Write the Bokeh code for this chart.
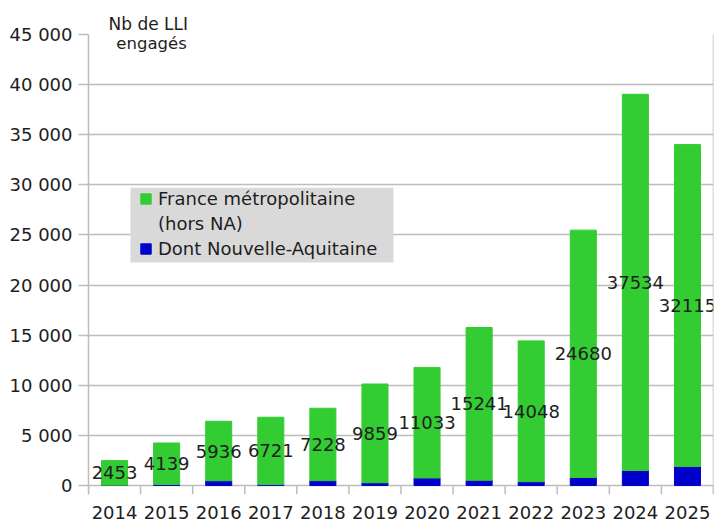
from bokeh.plotting import figure
from bokeh.models import (ColumnDataSource, Range1d, LinearAxis, FixedTicker,
                          Legend, LegendItem, Label, Span, BoxAnnotation)
from bokeh.core.properties import value
from bokeh.embed import file_html
from bokeh.resources import INLINE

years = ["2014", "2015", "2016", "2017", "2018", "2019", "2020", "2021", "2022", "2023", "2024", "2025"]
france_hors_na = [2453, 4139, 5936, 6721, 7228, 9859, 11033, 15241, 14048, 24680, 37534, 32115]
nouvelle_aquitaine = [30, 100, 470, 90, 480, 270, 750, 520, 380, 800, 1500, 1900]
y_ticks = [0, 5000, 10000, 15000, 20000, 25000, 30000, 35000, 40000, 45000]
y_tick_labels = ["0", "5 000", "10 000", "15 000", "20 000", "25 000", "30 000", "35 000", "40 000", "45 000"]

GREEN = "#33cc33"
BLUE = "#0000cc"
GRID = "#bdbdbd"
TXT = "#1e1e1e"
FONT = "DejaVu Sans"
TICK_DEPTH = 900  # x tick marks below the baseline, in data units

n = len(years)
x_pos = [i + 0.5 for i in range(n)]
bounds = list(range(n + 1))
label_y = [b + g / 2 for b, g in zip(nouvelle_aquitaine, france_hors_na)]
src = ColumnDataSource(dict(x=x_pos, na=nouvelle_aquitaine, fr=france_hors_na,
                            label_y=label_y, label_txt=[str(v) for v in france_hors_na]))

p = figure(width=715, height=521, x_range=Range1d(0, n),
           y_range=Range1d(-TICK_DEPTH, y_ticks[-1]), output_backend="svg", toolbar_location=None,
           x_axis_location=None, min_border_left=88, min_border_right=2,
           min_border_top=34, min_border_bottom=25)
p.background_fill_color = "white"
p.border_fill_color = "white"
p.outline_line_color = None

p.title.text = "Nb de LLI"
p.title.align = "left"
p.title.offset = 20
p.title.standoff = 2
p.title.text_font = FONT
p.title.text_font_size = "17px"
p.title.text_font_style = "normal"
p.title.text_color = TXT

rs = p.vbar_stack(["na", "fr"], x="x", width=0.5, color=[BLUE, GREEN], source=src)
blank = p.vbar(x=[], top=[], width=0.5, fill_alpha=0, line_alpha=0)

# y axis
ya = p.yaxis[0]
ya.ticker = FixedTicker(ticks=y_ticks, minor_ticks=[])
ya.major_label_overrides = {t: l for t, l in zip(y_ticks, y_tick_labels)}
ya.major_label_text_font = FONT
ya.major_label_text_font_size = "18px"
ya.major_label_text_color = TXT
ya.major_label_standoff = 6
ya.axis_line_color = GRID
ya.axis_line_width = 1.5
ya.major_tick_line_color = GRID
ya.major_tick_line_width = 1.5
ya.major_tick_out = 10
ya.major_tick_in = 0
ya.minor_tick_line_color = None
p.ygrid.ticker = FixedTicker(ticks=y_ticks)
p.ygrid.grid_line_color = GRID
p.ygrid.grid_line_width = 1.5
p.xgrid.grid_line_color = None

# right border and category boundary ticks
p.add_layout(Span(location=n, dimension="height", line_color=GRID, line_width=1.5))
p.segment(x0=bounds, y0=[0] * len(bounds), x1=bounds, y1=[-TICK_DEPTH] * len(bounds),
          line_color=GRID, line_width=1.5)

# year labels at category centres
lab_axis = LinearAxis(ticker=FixedTicker(ticks=x_pos, minor_ticks=[]))
lab_axis.major_label_overrides = {x: y for x, y in zip(x_pos, years)}
lab_axis.major_tick_line_color = None
lab_axis.axis_line_color = None
lab_axis.minor_tick_line_color = None
lab_axis.major_label_text_font = FONT
lab_axis.major_label_text_font_size = "18px"
lab_axis.major_label_text_color = TXT
lab_axis.major_label_standoff = 5
p.add_layout(lab_axis, "below")

# value labels
p.text(x="x", y="label_y", text="label_txt", source=src, text_align="center",
       text_baseline="middle", text_font=value(FONT), text_font_size="18px", text_color=TXT)

# second line of the axis title
p.add_layout(Label(x=1.21, y=44100, text="engagés", text_align="center", text_baseline="middle",
                   text_font=FONT, text_font_size="16.5px", text_color=TXT))

# legend background box
p.add_layout(BoxAnnotation(left=0.806, right=5.856, bottom=22250, top=29700,
                           fill_color="#d9d9d9", fill_alpha=1, line_color=None))

legend = Legend(items=[LegendItem(label="France métropolitaine", renderers=[rs[1]]),
                       LegendItem(label="(hors NA)", renderers=[blank]),
                       LegendItem(label="Dont Nouvelle-Aquitaine", renderers=[rs[0]])],
                location=(51, 233), background_fill_alpha=0,
                border_line_color=None, label_text_font=FONT, label_text_font_size="18px",
                label_text_color=TXT, glyph_width=13, glyph_height=13, spacing=0,
                label_height=25, padding=0, margin=0, label_standoff=6)
p.add_layout(legend, "center")

open("out.html", "w").write(file_html(p, INLINE))
